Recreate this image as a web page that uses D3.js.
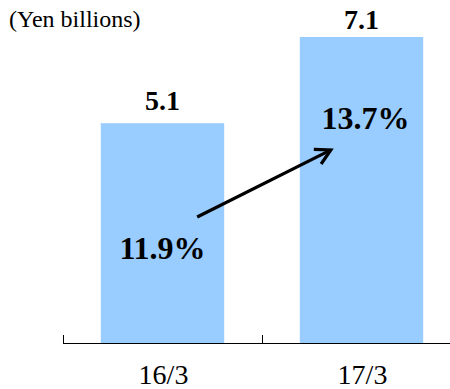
<!DOCTYPE html>
<html><head><meta charset="utf-8"><script src="https://cdn.jsdelivr.net/npm/d3@7"></script></head>
<body style="margin:0">
<svg id="chart" width="450" height="389"></svg>
<script>
// Fiscal years and operating income (yen billions)
const categories = ["16/3", "17/3"];
const values = [5.1, 7.1];
// Operating margin for each year
const margins = ["11.9%", "13.7%"];
const unitLabel = "(Yen billions)";

const FONT = '"Liberation Serif", Tinos, Times, serif';
const svg = d3.select("#chart");
const W = 450;

// Serif text helper
const serif = sel => sel.style("font-family", FONT, "important");

const x = d3.scaleBand()
  .domain(categories)
  .range([63, 461])
  .paddingInner(0.38)
  .paddingOuter(0.19);

const y = d3.scaleLinear()
  .domain([0, 7.1])
  .range([343, 37]);

// Bars
svg.selectAll("rect.bar")
  .data(values)
  .join("rect")
  .attr("class", "bar")
  .attr("x", (d, i) => x(categories[i]))
  .attr("width", x.bandwidth())
  .attr("y", d => y(d))
  .attr("height", d => y(0) - y(d))
  .attr("fill", "#99ccff");

// Value labels above bars
const valGap = [13, 8];
svg.selectAll("text.val")
  .data(values)
  .join("text")
  .attr("class", "val")
  .call(serif)
  .attr("x", (d, i) => x(categories[i]) + x.bandwidth() / 2)
  .attr("y", (d, i) => y(d) - valGap[i])
  .attr("text-anchor", "middle")
  .attr("font-weight", "bold")
  .attr("font-size", 28)
  .text(d => d.toFixed(1));

// Baseline axis with inward ticks at band edges
const axisG = svg.append("g");
axisG.append("line")
  .attr("x1", x.range()[0]).attr("x2", W + 10)
  .attr("y1", y(0) + 0.5).attr("y2", y(0) + 0.5)
  .attr("stroke", "#000").attr("stroke-width", 1.2);
const edges = categories.map(c => x(c) - x.step() * x.paddingInner() / 2);
edges[0] = x.range()[0];
axisG.selectAll("line.tick")
  .data(edges)
  .join("line")
  .attr("class", "tick")
  .attr("x1", d => Math.round(d) + 0.5).attr("x2", d => Math.round(d) + 0.5)
  .attr("y1", y(0) - 8).attr("y2", y(0))
  .attr("stroke", "#000").attr("stroke-width", 1);

// Category labels
svg.selectAll("text.cat")
  .data(categories)
  .join("text")
  .attr("class", "cat")
  .call(serif)
  .attr("x", d => x(d) + x.bandwidth() / 2 + 1)
  .attr("y", 384)
  .attr("text-anchor", "middle")
  .attr("font-size", 28)
  .text(d => d);

// Unit label
svg.append("text")
  .call(serif)
  .attr("x", 9)
  .attr("y", 27)
  .attr("font-size", 24)
  .text(unitLabel);

// Margin labels inside bars
const marginPos = [
  { dx: 0, yy: 259 },
  { dx: 4, yy: 129 }
];
svg.selectAll("text.margin")
  .data(margins)
  .join("text")
  .attr("class", "margin")
  .call(serif)
  .attr("x", (d, i) => x(categories[i]) + x.bandwidth() / 2 + marginPos[i].dx)
  .attr("y", (d, i) => marginPos[i].yy)
  .attr("text-anchor", "middle")
  .attr("font-weight", "bold")
  .attr("font-size", 32)
  .text(d => d);

// Growth arrow between margins
const x0 = x(categories[0]) + x.bandwidth() - 27, y0 = 217;
const x1 = x(categories[1]) + 31, y1 = 150;
const ang = Math.atan2(y1 - y0, x1 - x0);
const head = 17, spread = 0.5;
svg.append("line")
  .attr("x1", x0).attr("y1", y0)
  .attr("x2", x1 - 2 * Math.cos(ang)).attr("y2", y1 - 2 * Math.sin(ang))
  .attr("stroke", "#000").attr("stroke-width", 3.2).attr("stroke-linecap", "butt");
svg.append("path")
  .attr("d", d3.line()([
    [x1 - head * Math.cos(ang - spread), y1 - head * Math.sin(ang - spread)],
    [x1, y1],
    [x1 - head * Math.cos(ang + spread), y1 - head * Math.sin(ang + spread)]
  ]))
  .attr("fill", "none")
  .attr("stroke", "#000").attr("stroke-width", 3.2)
  .attr("stroke-linejoin", "miter").attr("stroke-linecap", "butt");
</script>
</body></html>
